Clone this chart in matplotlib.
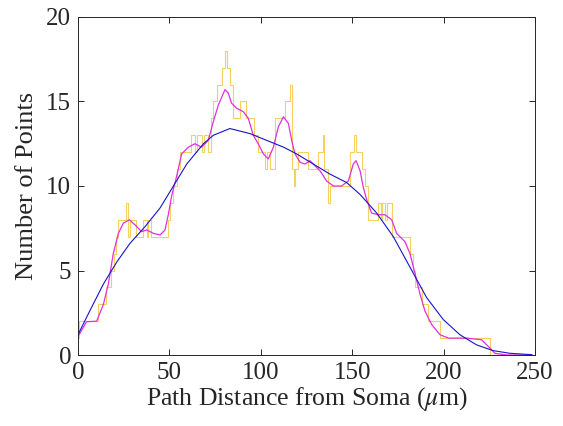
import matplotlib
matplotlib.use("Agg")
import matplotlib.pyplot as plt

# ---- data ----
hist_edges = [0, 0.6, 10.8, 15.3, 18, 19.5, 21, 22, 26.5, 27.5, 28.3, 32, 35.5, 37.5, 38.5, 40,
              49, 50.5, 52, 54, 56, 62, 64, 65, 68, 69, 71, 72.5, 74, 76, 79, 80.6, 81.4, 83,
              85, 88.5, 92, 96.3, 98.6, 102.5, 103.5, 105.2, 107.6, 113.5, 116.2, 117.0, 118.0,
              118.6, 120.5, 126, 131.5, 133.8, 134.6, 136.9, 138, 148.8, 150.8, 152, 155.2, 157,
              158.8, 164.3, 165.5, 166.5, 168, 169, 171.5, 181.6, 183, 184.4, 188, 191.7, 198,
              225.4, 248]
hist_counts = [1, 2, 3, 4, 5, 6, 7, 8, 9, 7, 8, 7, 8, 7, 8,
               7, 8, 9, 10, 11, 12, 13, 12, 13, 12, 13, 12, 14, 15, 16, 17, 18, 17,
               16, 14, 15, 14, 13, 12, 11, 12, 11, 14, 15, 16, 11,
               10, 11, 12, 11, 12, 13, 11, 9, 10, 12, 13, 12, 11,
               10, 8, 9, 8, 9, 8, 9, 7, 6, 5, 4, 3, 2,
               1, 0]

smooth_x = [0, 4.7, 10.2, 13.9, 16.6, 19.3, 22.1, 24.8, 28.1, 31.2, 34.8, 37.6, 41.2, 44.9,
            47.6, 49.4, 51.2, 54.0, 56.7, 60.4, 64.0, 67.6, 71.3, 74.0, 76.8, 80.4, 82.2, 84.0,
            86.8, 90.4, 93.2, 95.9, 98.6, 101.4, 104.1, 106.9, 109.6, 112.4, 115.1, 116.9,
            118.7, 121.5, 124.2, 126.9, 129.6, 132.4, 136.0, 139.7, 144.2, 147.9, 150.6, 152.1,
            154.3, 156.1, 157.9, 160.6, 164.3, 167.9, 171.6, 174.3, 178.9, 181.6, 184.4, 187.1,
            189.8, 193.5, 198.0, 202.6, 212.6, 220.8, 224.5, 228.1, 234.5, 248.2]
smooth_y = [1.1, 1.97, 2.0, 3.0, 4.2, 6.0, 7.2, 7.8, 8.0, 7.7, 7.3, 7.4, 7.2, 7.1,
            7.4, 8.3, 9.4, 10.6, 11.9, 12.3, 12.5, 12.3, 12.7, 13.8, 14.8, 15.7, 15.5, 14.9,
            14.6, 14.4, 14.0, 13.0, 12.5, 11.9, 11.6, 12.3, 13.5, 14.1, 13.7, 12.7,
            11.9, 11.4, 11.3, 11.5, 11.2, 10.9, 10.3, 10.0, 10.0, 10.3, 11.3, 11.5,
            10.9, 9.9, 9.2, 8.4, 8.3, 8.3, 8.0, 7.2, 6.7, 6.0, 4.8, 3.6,
            2.6, 1.8, 1.2, 1.0, 1.0, 0.9, 0.5, 0.1, 0.0, 0.0]

fit_x = [0, 6.4, 13.9, 21.2, 28.4, 36.7, 44.9, 52.2, 59.5, 68.6, 74.0, 83.1, 94.1, 103.2,
         112.4, 119.6, 128.7, 137.9, 147.0, 154.3, 163.4, 172.5, 181.6, 190.7, 199.8, 208.9,
         218.0, 227.1, 236.3, 248.2]
fit_y = [1.2, 2.6, 4.2, 5.5, 6.6, 7.6, 8.7, 10.0, 11.3, 12.5, 13.0, 13.4, 13.1, 12.7,
         12.3, 11.9, 11.3, 10.7, 10.2, 9.5, 8.4, 7.0, 5.2, 3.4, 2.1, 1.2,
         0.6, 0.26, 0.1, 0.02]

x_ticks = [0, 50, 100, 150, 200, 250]
y_ticks = [0, 5, 10, 15, 20]

# ---- plotting ----
plt.rcParams['font.family'] = ['Liberation Serif', 'DejaVu Serif']
plt.rcParams['mathtext.fontset'] = 'stix'

fig = plt.figure(figsize=(5.63, 4.26), dpi=100)
ax = fig.add_axes([78 / 563, 1 - 355 / 426, (535 - 78) / 563, (355 - 17) / 426])

ax.stairs(hist_counts, hist_edges, color='#F3D060', linewidth=0.8, baseline=None)
ax.plot(smooth_x, smooth_y, color='#E030E0', linewidth=0.9)
ax.plot(fit_x, fit_y, color='#1515C8', linewidth=0.8)

ax.set_xlim(0, 250)
ax.set_ylim(0, 20)
ax.set_xticks(x_ticks)
ax.set_yticks(y_ticks)
axcol = (0.15, 0.15, 0.15)
for s in ax.spines.values():
    s.set_color(axcol)
    s.set_linewidth(0.7)
ax.tick_params(direction='in', length=4, width=0.7, color=axcol, top=True, right=True,
               labelsize=18, labelcolor=axcol, pad=5)
ax.set_xlabel(r'Path Distance from Soma ($\mu$m)', fontsize=18.5, color=axcol, labelpad=1)
ax.set_ylabel('Number of Points', fontsize=19, color=axcol, labelpad=6)

fig.savefig('out.png', dpi=100)
